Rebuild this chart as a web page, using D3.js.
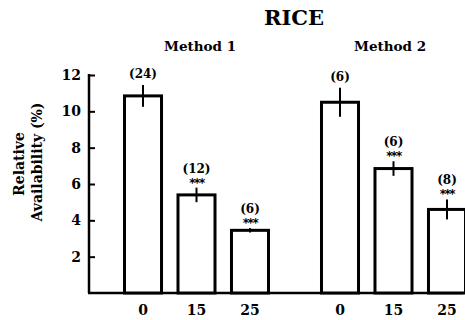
<!DOCTYPE html>
<html>
<head>
  <meta charset="UTF-8">
  <script src="https://d3js.org/d3.v7.min.js"></script>
  <style>
    body { margin: 0; padding: 0; background: white; }
    text { font-family: "DejaVu Serif", serif; font-weight: bold; fill: #000; }
  </style>
</head>
<body>
  <svg id="chart" width="465" height="320"></svg>
  <script>
    // data
    var methods = ["Method 1", "Method 2"];
    var doses = ["0", "15", "25"];
    var method1Values = [10.85, 5.4, 3.45];
    var method1Errors = [0.6, 0.4, 0.12];
    var method2Values = [10.5, 6.85, 4.6];
    var method2Errors = [0.8, 0.4, 0.55];
    var method1N = ["(24)", "(12)", "(6)"];
    var method2N = ["(6)", "(6)", "(8)"];
    var method1Stars = ["", "***", "***"];
    var method2Stars = ["", "***", "***"];
    var yTicks = [2, 4, 6, 8, 10, 12];

    var data = [];
    doses.forEach(function (d, i) {
      data.push({ method: methods[0], dose: d, value: method1Values[i], err: method1Errors[i], n: method1N[i], stars: method1Stars[i] });
    });
    doses.forEach(function (d, i) {
      data.push({ method: methods[1], dose: d, value: method2Values[i], err: method2Errors[i], n: method2N[i], stars: method2Stars[i] });
    });

    var svg = d3.select("#chart");

    // groups on x
    var xGroup = d3.scaleBand()
      .domain(methods)
      .range([124.5, 465.5])
      .paddingInner(0.269)
      .paddingOuter(0);

    var xDose = d3.scaleBand()
      .domain(doses)
      .range([0, xGroup.bandwidth()])
      .paddingInner(0.308)
      .paddingOuter(0);

    var y = d3.scaleLinear()
      .domain([0, 12])
      .range([293, 75]);

    // y axis ticks (inside)
    var yAxis = svg.append("g")
      .attr("transform", "translate(89,0)")
      .call(d3.axisRight(y).tickValues(yTicks).tickSize(6).tickFormat(""));
    yAxis.select(".domain").remove();
    yAxis.selectAll("line").attr("stroke", "#000").attr("stroke-width", 2);

    svg.append("line")
      .attr("x1", 89).attr("x2", 89)
      .attr("y1", y(12) - 1).attr("y2", y(0))
      .attr("stroke", "#000").attr("stroke-width", 2.5);

    svg.selectAll(".ytl")
      .data(yTicks)
      .enter()
      .append("text")
      .attr("class", "ytl")
      .attr("x", 81)
      .attr("y", d => y(d) + 5)
      .attr("text-anchor", "end")
      .style("font-size", "14px")
      .text(d => d);

    // baseline
    svg.append("line")
      .attr("x1", 88).attr("x2", 463)
      .attr("y1", y(0)).attr("y2", y(0))
      .attr("stroke", "#000").attr("stroke-width", 2.5);

    var bx = d => xGroup(d.method) + xDose(d.dose);
    var cx = d => bx(d) + xDose.bandwidth() / 2;
    var errTop = d => y(d.value + d.err);

    // bars
    svg.selectAll(".bar")
      .data(data)
      .enter()
      .append("rect")
      .attr("class", "bar")
      .attr("x", bx)
      .attr("y", d => y(d.value))
      .attr("width", xDose.bandwidth())
      .attr("height", d => y(0) - y(d.value))
      .attr("fill", "white")
      .attr("stroke", "#000")
      .attr("stroke-width", 3);

    // error bars
    svg.selectAll(".err")
      .data(data)
      .enter()
      .append("line")
      .attr("class", "err")
      .attr("x1", cx).attr("x2", cx)
      .attr("y1", errTop)
      .attr("y2", d => y(d.value - d.err))
      .attr("stroke", "#000").attr("stroke-width", 2);

    // stars
    svg.selectAll(".stars")
      .data(data)
      .enter()
      .append("text")
      .attr("class", "stars")
      .attr("x", cx)
      .attr("y", d => errTop(d) - 1)
      .attr("text-anchor", "middle")
      .style("font-family", "'DejaVu Sans', sans-serif")
      .style("font-size", "12px")
      .style("letter-spacing", "-1.5px")
      .text(d => d.stars);

    // n labels
    svg.selectAll(".nlab")
      .data(data)
      .enter()
      .append("text")
      .attr("class", "nlab")
      .attr("x", cx)
      .attr("y", d => errTop(d) - (d.stars ? 15 : 7))
      .attr("text-anchor", "middle")
      .style("font-size", "12px")
      .text(d => d.n);

    // x labels
    svg.selectAll(".xl")
      .data(data)
      .enter()
      .append("text")
      .attr("class", "xl")
      .attr("x", cx)
      .attr("y", 315)
      .attr("text-anchor", "middle")
      .style("font-size", "14px")
      .text(d => d.dose);

    // method headers
    svg.selectAll(".mh")
      .data(methods)
      .enter()
      .append("text")
      .attr("class", "mh")
      .attr("x", (d, i) => i === 0 ? 200 : 390)
      .attr("y", 51)
      .attr("text-anchor", "middle")
      .style("font-size", "13.5px")
      .text(d => d);

    svg.append("text")
      .attr("x", 294)
      .attr("y", 25)
      .attr("text-anchor", "middle")
      .style("font-size", "21px")
      .text("RICE");

    // y title
    svg.append("text")
      .attr("transform", "translate(24,164) rotate(-90)")
      .attr("text-anchor", "middle")
      .style("font-size", "14px")
      .text("Relative");
    svg.append("text")
      .attr("transform", "translate(42,162) rotate(-90)")
      .attr("text-anchor", "middle")
      .style("font-size", "14px")
      .text("Availability (%)");
  </script>
</body>
</html>
